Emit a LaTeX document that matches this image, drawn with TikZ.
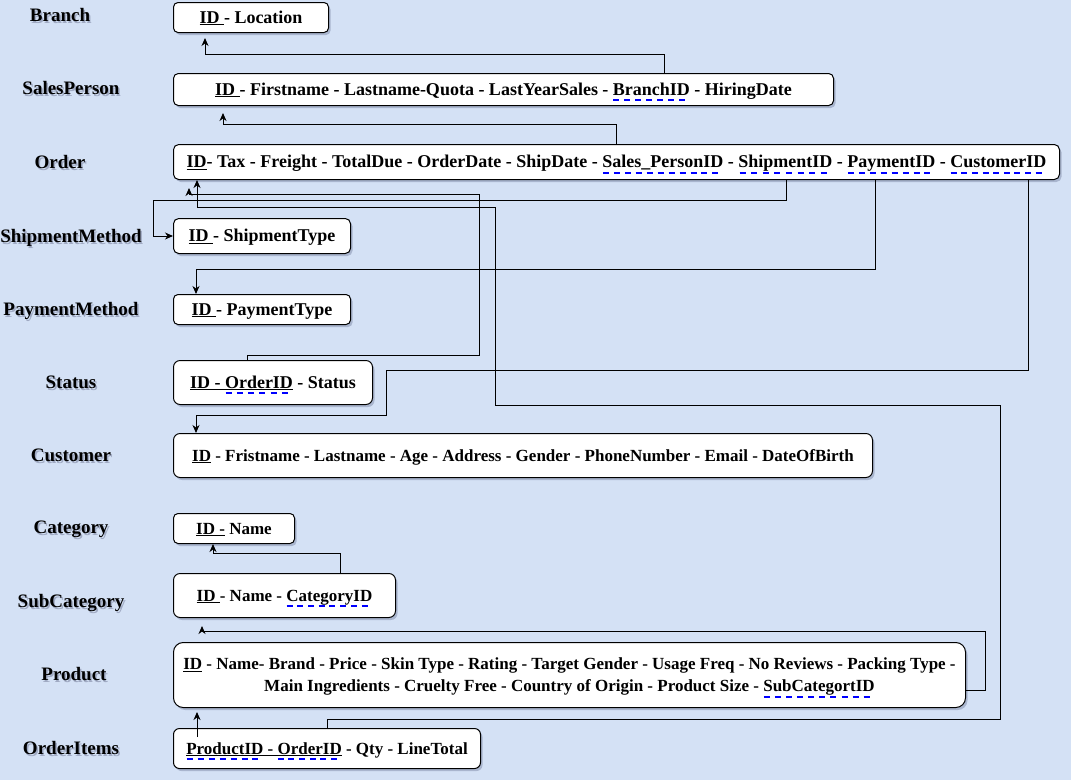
\documentclass[tikz,border=0pt]{standalone}
\usepackage{fontspec}
\setmainfont{Liberation Serif}
\usetikzlibrary{arrows.meta,shadows}
\definecolor{bg}{RGB}{212,225,245}
\definecolor{fkblue}{RGB}{0,0,255}
\definecolor{tshadow}{RGB}{160,170,195}
\definecolor{bshadow}{RGB}{90,100,135}
\newsavebox\fkbox
\newcommand\fk[1]{\sbox\fkbox{#1}\rlap{\raisebox{-6pt}[0pt][0pt]{\color{fkblue}\hbox to \wd\fkbox{\xleaders\hbox to 10.5pt{\rule{6pt}{2pt}\hss}\hfill}}}\usebox\fkbox}
\newcommand\shtxt[1]{\rlap{\kern1.5pt\raisebox{-1.5pt}{\color{tshadow}#1}}#1}
\begin{document}
\begin{tikzpicture}[x=1pt,y=-1pt,
  big/.style={font=\fontsize{18}{21}\selectfont\bfseries},
  small/.style={font=\fontsize{17}{22}\selectfont\bfseries},
  box/.style={draw=black, line width=1pt, fill=white, inner sep=0pt, anchor=north west,
    text height=15pt, text depth=4pt,
    drop shadow={shadow xshift=2pt, shadow yshift=-2.5pt, opacity=0.35, fill=bshadow}},
  lbl/.style={inner sep=0pt, text height=13pt, text depth=4pt, font=\fontsize{19}{22}\selectfont\bfseries},
  conn/.style={draw=black, line width=1pt, -{Stealth[length=8pt,width=7pt,inset=2.5pt]}}]
\fill[bg] (0,0) rectangle (1071,780);
\useasboundingbox (0,0) rectangle (1071,780);

% labels
\node[lbl] (lbranch) at (60,17) {\shtxt{Branch}};
\node[lbl] (lsales) at (71,90) {\shtxt{SalesPerson}};
\node[lbl] (lorder) at (60,164) {\shtxt{Order}};
\node[lbl] (lship) at (71,238) {\shtxt{ShipmentMethod}};
\node[lbl] (lpay) at (71,311) {\shtxt{PaymentMethod}};
\node[lbl] (lstatus) at (71,384) {\shtxt{Status}};
\node[lbl] (lcustomer) at (71,457) {\shtxt{Customer}};
\node[lbl] (lcategory) at (71,529) {\shtxt{Category}};
\node[lbl] (lsubcat) at (71,603) {\shtxt{SubCategory}};
\node[lbl] (lproduct) at (74,676) {\shtxt{Product}};
\node[lbl] (lorderitems) at (71,750) {\shtxt{OrderItems}};

% boxes
\node[box, big, rounded corners=4.5pt, minimum width=155pt, minimum height=30pt] (branch) at (173,2)
  {\underline{ID\ }- Location};
\node[box, big, rounded corners=4.8pt, minimum width=660pt, minimum height=32pt] (sales) at (173,73)
  {\underline{ID\ }- Firstname - Lastname-Quota - LastYearSales - \fk{BranchID} - HiringDate};
\node[box, big, rounded corners=5.2pt, minimum width=886pt, minimum height=35pt] (order) at (173,144)
  {\underline{ID}- Tax - Freight - TotalDue - OrderDate - ShipDate - \fk{Sales\_PersonID} - \fk{ShipmentID} - \fk{PaymentID} - \fk{CustomerID}};
\node[box, big, rounded corners=5.2pt, minimum width=177pt, minimum height=35pt] (ship) at (173,218)
  {\underline{ID\ }- ShipmentType};
\node[box, big, rounded corners=4.5pt, minimum width=177pt, minimum height=30pt] (pay) at (173,294)
  {\underline{ID\ }- PaymentType};
\node[box, big, rounded corners=6.6pt, minimum width=199pt, minimum height=44pt] (status) at (173,360)
  {\underline{ID - \fk{OrderID}} - Status};
\node[box, small, rounded corners=6.6pt, minimum width=699pt, minimum height=44pt] (customer) at (173,433)
  {\underline{ID} - Fristname - Lastname - Age - Address - Gender - PhoneNumber - Email - DateOfBirth};
\node[box, small, rounded corners=4.5pt, minimum width=121pt, minimum height=30pt] (category) at (173,513)
  {\underline{ID -}\ Name};
\node[box, small, rounded corners=6.6pt, minimum width=222pt, minimum height=44pt] (subcat) at (173,573)
  {\underline{ID\ }- Name - \fk{CategoryID}};
\node[box, small, align=center, text height=, text depth=, rounded corners=9.7pt, minimum width=792pt, minimum height=65pt] (product) at (173,642)
  {\rule{0pt}{15.5pt}\underline{ID} - Name- Brand - Price - Skin Type - Rating - Target Gender - Usage Freq - No Reviews - Packing Type -\\
   Main Ingredients - Cruelty Free - Country of Origin - Product Size - \fk{SubCategortID}};
\node[box, small, rounded corners=6pt, minimum width=307pt, minimum height=40pt] (orderitems) at (173,728)
  {\underline{\fk{ProductID} - \fk{OrderID}} - Qty - LineTotal};

% bend points
\coordinate (a1) at (664,54); \coordinate (a2) at (205,54);
\coordinate (b1) at (616,124); \coordinate (b2) at (223,124);
\coordinate (s1) at (786,200); \coordinate (s2) at (153,200);
\coordinate (p1) at (875,269); \coordinate (p2) at (196,269);
\coordinate (u1) at (1028,370); \coordinate (u2) at (386,370);
\coordinate (u3) at (386,415); \coordinate (u4) at (196,415);
\coordinate (t1) at (247,355); \coordinate (t2) at (479,355);
\coordinate (t3) at (479,194); \coordinate (t4) at (189,194);
\coordinate (o1) at (327,719); \coordinate (o2) at (1000,719);
\coordinate (o3) at (1000,405); \coordinate (o4) at (495,405);
\coordinate (o5) at (495,207); \coordinate (o6) at (197,207);
\coordinate (q1) at (985,690); \coordinate (q2) at (985,631); \coordinate (q3) at (202,631);
\coordinate (r1) at (340,553); \coordinate (r2) at (213,553);
\coordinate (v1) at (197,728);

% connectors
\draw[conn, shorten >=5pt] (sales.north -| a1) -- (a1) -- (a2) -- (a2 |- branch.south);
\draw[conn, shorten >=7pt] (order.north -| b1) -- (b1) -- (b2) -- (b2 |- sales.south);
\draw[conn] (order.south -| s1) -- (s1) -- (s2) -- (s2 |- ship.west) -- (ship.west);
\draw[conn] (order.south -| p1) -- (p1) -- (p2) -- (p2 |- pay.north);
\draw[conn] (order.south -| u1) -- (u1) -- (u2) -- (u3) -- (u4) -- (u4 |- customer.north);
\draw[conn, shorten >=8pt] (status.north -| t1) -- (t1) -- (t2) -- (t3) -- (t4) -- (t4 |- order.south);
\draw[conn] (orderitems.north -| o1) -- (o1) -- (o2) -- (o3) -- (o4) -- (o5) -- (o6) -- (o6 |- order.south);
\draw[conn, shorten >=8pt] (product.east |- q1) -- (q1) -- (q2) -- (q3) -- (q3 |- subcat.south);
\draw[conn] (subcat.north -| r1) -- (r1) -- (r2) -- (r2 |- category.south);
\draw[conn, shorten >=4pt, shorten <=-9pt] (orderitems.north -| v1) -- (v1 |- product.south);
\end{tikzpicture}
\end{document}
